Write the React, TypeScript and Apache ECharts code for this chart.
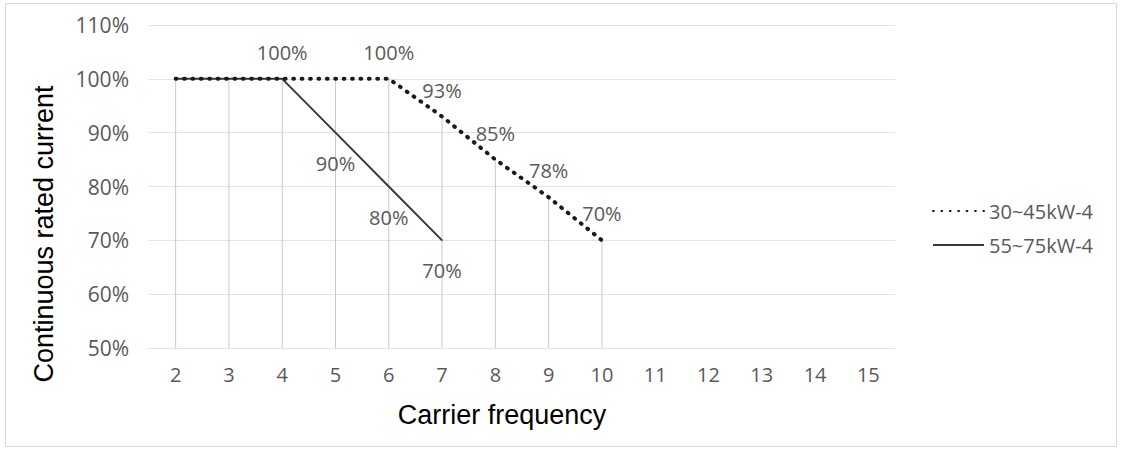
import React, { useEffect, useRef } from "react";
import * as echarts from "echarts";

const categories = ["2", "3", "4", "5", "6", "7", "8", "9", "10", "11", "12", "13", "14", "15"];
const series30 = [100, 100, 100, 100, 100, 93, 85, 78, 70];
const series55 = [100, 100, 100, 90, 80, 70];
const label30Pos: (string | null)[] = [null, null, null, null, "top", "top", "top", "top", "top"];
const label55Pos: (string | null)[] = [null, null, "top", "bottom", "bottom", "bottom"];
const seriesNames = ["30~45kW-4", "55~75kW-4"];
const yMin = 50;
const yMax = 110;
const yInterval = 10;
const xTitle = "Carrier frequency";
const yTitle = "Continuous rated current";

const GRAY = "#595959";
const TICK_FONT = "'Open Sans', 'Noto Sans', sans-serif";
const TITLE_FONT = "'Liberation Sans', Arial, sans-serif";

function makeData(vals: number[], positions: (string | null)[]) {
  return vals.map((v, i) => {
    const pos = positions[i];
    if (!pos) return { value: v, label: { show: false } };
    return {
      value: v,
      label: {
        show: true,
        position: pos,
        distance: pos === "top" ? 16 : 20,
      },
    };
  });
}

export default function App() {
  const ref = useRef<HTMLDivElement>(null);
  useEffect(() => {
    if (!ref.current) return;
    const chart = echarts.init(ref.current, null, { renderer: "svg" });
    const dropData = categories
      .map((_, i) => {
        const a = series30[i];
        const b = series55[i];
        if (a === undefined && b === undefined) return null;
        return [i, Math.max(a ?? -Infinity, b ?? -Infinity)];
      })
      .filter((d) => d !== null);

    const labelStyle = {
      color: GRAY,
      fontFamily: TICK_FONT,
      fontSize: 20,
      formatter: "{c}%",
    };

    chart.setOption({
      animation: false,
      backgroundColor: "#ffffff",
      grid: { left: 149, right: 227, top: 25, bottom: 101 },
      xAxis: {
        type: "category",
        data: categories,
        boundaryGap: true,
        axisLine: { show: true, lineStyle: { color: "#e3e3e3", width: 1 } },
        axisTick: { show: false },
        axisLabel: {
          color: GRAY,
          fontFamily: TICK_FONT,
          fontSize: 20,
          margin: 16,
        },
        splitLine: { show: false },
      },
      yAxis: {
        type: "value",
        min: yMin,
        max: yMax,
        interval: yInterval,
        axisLine: { show: false },
        axisTick: { show: false },
        axisLabel: {
          color: GRAY,
          fontFamily: TICK_FONT,
          fontSize: 21,
          margin: 20,
          formatter: "{value}%",
        },
        splitLine: { show: true, lineStyle: { color: "#e3e3e3", width: 1 } },
      },
      legend: {
        orient: "vertical",
        left: 927,
        top: 196,
        itemWidth: 51,
        itemHeight: 14,
        itemGap: 14,
        itemStyle: { opacity: 0 },
        textStyle: { color: GRAY, fontFamily: TICK_FONT, fontSize: 20 },
        data: seriesNames,
      },
      graphic: [
        {
          type: "rect",
          shape: { x: 5.5, y: 3.5, width: 1111, height: 443 },
          style: { fill: "none", stroke: "#d9d9d9", lineWidth: 1 },
          silent: true,
        },
        {
          type: "text",
          x: 502,
          y: 415,
          style: {
            text: xTitle,
            font: `27px ${TITLE_FONT}`,
            fill: "#000000",
            align: "center",
            verticalAlign: "middle",
          },
        },
        {
          type: "text",
          x: 44,
          y: 234,
          rotation: Math.PI / 2,
          style: {
            text: yTitle,
            font: `27px ${TITLE_FONT}`,
            fill: "#000000",
            align: "center",
            verticalAlign: "middle",
          },
        },
      ],
      series: [
        {
          type: "custom",
          name: "drop",
          z: 1,
          silent: true,
          data: dropData,
          encode: { x: 0, y: 1 },
          renderItem: (params: any, api: any) => {
            const x = api.value(0);
            const v = api.value(1);
            const p1 = api.coord([x, v]);
            const p0 = api.coord([x, yMin]);
            return {
              type: "line",
              shape: { x1: p1[0], y1: p1[1], x2: p0[0], y2: p0[1] },
              style: { stroke: "#c9c9c9", lineWidth: 1 },
            };
          },
        },
        {
          type: "line",
          name: seriesNames[0],
          z: 3,
          data: makeData(series30, label30Pos),
          symbol: "circle",
          symbolSize: 1,
          itemStyle: { color: "#1a1a1a" },
          lineStyle: { color: "#1a1a1a", width: 4, type: [0.8, 7.6], cap: "round" },
          label: labelStyle,
        },
        {
          type: "line",
          name: seriesNames[1],
          z: 2,
          data: makeData(series55, label55Pos),
          symbol: "circle",
          symbolSize: 1,
          itemStyle: { color: "#3a3a3a" },
          lineStyle: { color: "#3a3a3a", width: 2, type: "solid" },
          label: labelStyle,
        },
      ],
    });
    return () => chart.dispose();
  }, []);

  return (
    <div
      ref={ref}
      style={{ position: "fixed", left: 0, top: 0, width: 1122, height: 449, background: "#fff" }}
    />
  );
}
